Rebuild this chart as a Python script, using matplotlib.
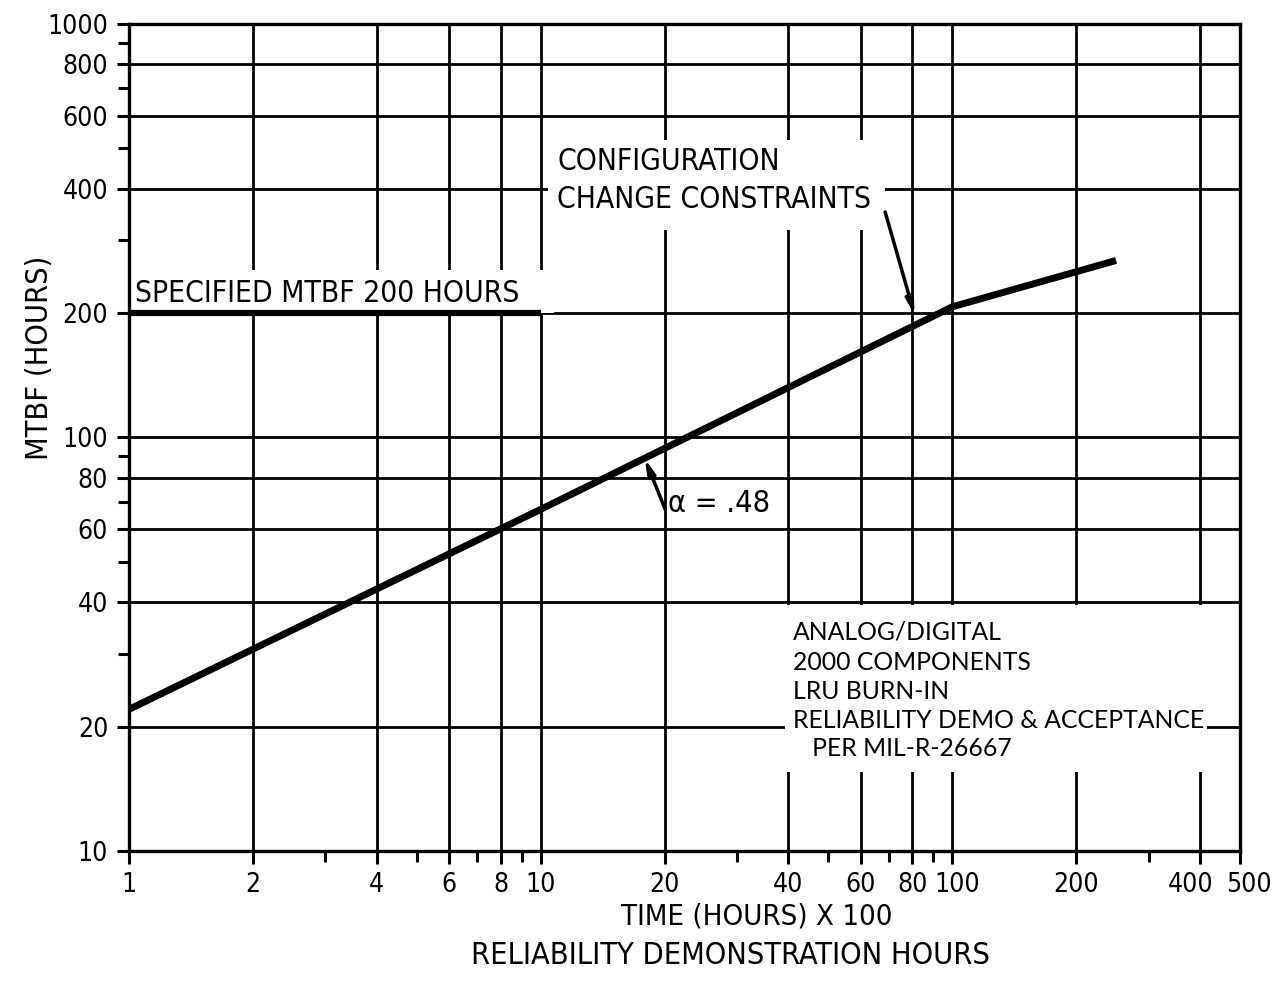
import numpy as np
import matplotlib.pyplot as plt
from matplotlib.patches import Rectangle
from matplotlib.ticker import FixedLocator, FixedFormatter, NullFormatter
from matplotlib.transforms import blended_transform_factory, offset_copy

plt.rcParams['font.family'] = ['DejaVu Sans']
plt.rcParams['font.stretch'] = 'condensed'

# data (time x 100 hours, MTBF hours)
growth_time = [1, 10, 100, 250]
growth_mtbf = [22, 67, 207, 268]
spec_time = [1, 10]
spec_mtbf = [200, 200]

x_major = [1, 2, 4, 6, 8, 10, 20, 40, 60, 80, 100, 200, 400, 500]
x_labels = ['1', '2', '4', '6', '8', '10', '20', '40', '60', '80', '100', '200', '400', '500']
x_minor = [3, 5, 7, 9, 30, 50, 70, 90, 300]
y_major = [10, 20, 40, 60, 80, 100, 200, 400, 600, 800, 1000]
y_labels = ['10', '20', '40', '60', '80', '100', '200', '400', '600', '800', '1000']
y_minor = [30, 50, 70, 90, 300, 500, 700, 900]

notes = ['ANALOG/DIGITAL', '2000 COMPONENTS', 'LRU BURN-IN',
         'RELIABILITY DEMO & ACCEPTANCE', '   PER MIL-R-26667']

fig = plt.figure(figsize=(12.81, 9.83), dpi=100)
ax = fig.add_axes([0.1007, 0.1343, 0.8673, 0.8413])
ax.set_xscale('log')
ax.set_yscale('log')
ax.set_xlim(1, 500)
ax.set_ylim(10, 1000)

ax.xaxis.set_major_locator(FixedLocator(x_major))
ax.xaxis.set_minor_locator(FixedLocator(x_minor))
ax.xaxis.set_minor_formatter(NullFormatter())
ax.yaxis.set_major_locator(FixedLocator(y_major))
ax.yaxis.set_major_formatter(FixedFormatter(y_labels))
ax.yaxis.set_minor_locator(FixedLocator(y_minor))
ax.yaxis.set_minor_formatter(NullFormatter())

ax.tick_params(which='major', direction='out', length=9, width=2.2, labelsize=19, pad=6)
ax.tick_params(which='minor', direction='out', length=8, width=2.2)
ax.tick_params(axis='x', labelbottom=False)
for s in ax.spines.values():
    s.set_linewidth(2.4)
ax.grid(True, which='major', color='black', linewidth=2.0)
ax.set_axisbelow(True)

# x tick labels placed by hand so the crowded ones sit like the original
trans = blended_transform_factory(ax.transData, ax.transAxes)
nudge = {'100': 5, '400': -9, '500': 9}
for v, lab in zip(x_major, x_labels):
    tr = offset_copy(trans, fig=fig, x=nudge.get(lab, 0), y=0, units='dots')
    ax.text(v, -0.041, lab, transform=tr, fontsize=19, ha='center', va='center',
            clip_on=False)

# white areas behind the labels (they break the grid like in the original)
ax.add_patch(Rectangle((1.0, 200), 9.8, 54, facecolor='white', edgecolor='none', zorder=1.5))
ax.add_patch(Rectangle((10.4, 318), 58.3, 206, facecolor='white', edgecolor='none', zorder=1.5))
ax.add_patch(Rectangle((39.3, 15.5), 376, 23.9, facecolor='white', edgecolor='none', zorder=1.5))

ax.plot(spec_time, spec_mtbf, color='black', linewidth=4.5, solid_capstyle='butt', zorder=3)
ax.plot(growth_time, growth_mtbf, color='black', linewidth=5, solid_capstyle='butt', zorder=3)

ax.text(1.034, 213, 'SPECIFIED MTBF 200 HOURS', fontsize=21.5, va='baseline', zorder=4)
ax.text(10.96, 443, 'CONFIGURATION', fontsize=21.5, va='baseline', zorder=4)
ax.text(10.96, 359, 'CHANGE CONSTRAINTS', fontsize=21.5, va='baseline', zorder=4)
ax.annotate('', xy=(81, 198), xytext=(68.7, 351),
            arrowprops=dict(arrowstyle='-|>,head_length=0.9,head_width=0.22',
                            color='black', lw=2.5, shrinkA=0, shrinkB=0), zorder=4)
ax.text(20.4, 66.1, '\u03b1 = .48', fontsize=22, va='baseline', zorder=4)
ax.annotate('', xy=(17.9, 89), xytext=(20.1, 66.8),
            arrowprops=dict(arrowstyle='-|>,head_length=0.9,head_width=0.22',
                            color='black', lw=2.5, shrinkA=0, shrinkB=0), zorder=4)

note_y = [33.85, 28.6, 24.25, 20.7, 17.74]
for t, yy in zip(notes, note_y):
    ax.text(41.0, yy, t, fontsize=17.8, va='center', family=['Lato', 'DejaVu Sans'],
            stretch='normal', zorder=4)

fig.text(40 / 1281, 1 - 358 / 983, 'MTBF (HOURS)', fontsize=22, rotation=90,
         ha='center', va='center')
fig.text(757 / 1281, 1 - 916 / 983, 'TIME (HOURS) X 100', fontsize=21, ha='center', va='center')
fig.text(730 / 1281, 1 - 956 / 983, 'RELIABILITY DEMONSTRATION HOURS', fontsize=22,
         ha='center', va='center')

fig.savefig('out.png', dpi=100)
